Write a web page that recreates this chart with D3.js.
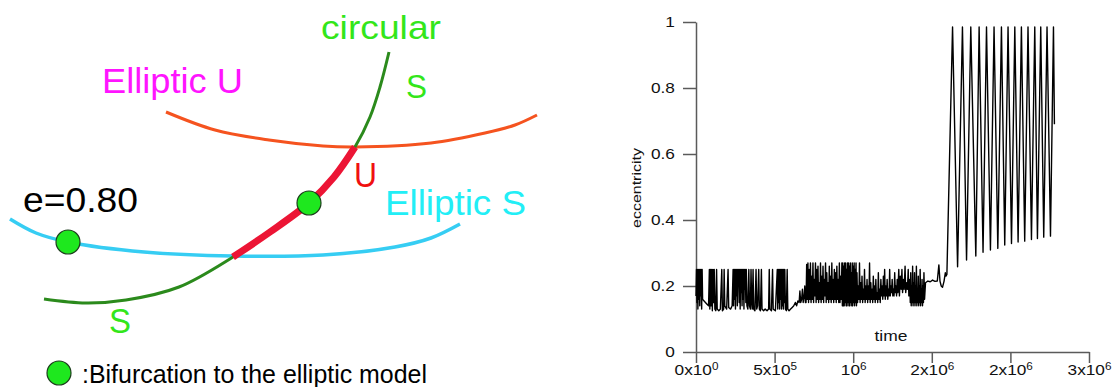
<!DOCTYPE html>
<html>
<head>
<meta charset="utf-8">
<script src="https://cdn.jsdelivr.net/npm/d3@7"></script>
<style>
  body { margin: 0; background: #fff; }
  svg { display: block; font-family: "Liberation Sans", Arial, sans-serif; }
</style>
</head>
<body>
<svg id="chart" width="1115" height="387"></svg>
<script>
// ---- left: schematic of the branches (diagram units, x 0..112, y 0..77.4 downwards)
const ellipticU = [[33.2,22.4],[43,26],[53.8,28],[64.6,29.2],[71,29.4],[86.2,28.6],[97,26.6],[103,25],[107.4,23]];
const ellipticS = [[2,43.8],[7.2,46.6],[13.6,48.4],[28.8,50.4],[46.6,51.2],[64.6,51],[79,49.4],[86.2,47.6],[92,44.8]];
const circularTop = [[77.8,10.4],[76,17.4],[74,23.4],[71,29.4]];
const circularU = [[71,29.4],[66.8,35.4],[61.8,40.6],[54,46.4],[46.6,51.4]];
const circularLow = [[46.6,51.4],[35.8,57.4],[25.2,60],[17.2,60.6],[8.8,59.8]];
const bifurcations = [[13.6,48.4],[61.8,40.6]];

// ---- right: eccentricity vs time (time in units of 1e3)
const quietPhase = [
  [0,.17],[3,.25],[6,.15],[9,.25],[12,.13],[15,.25],[18,.16],[21,.25],[24,.14],[27,.25],[30,.17],[33,.25],[36,.13],[39,.25],[42,.16],
  [50,.155],[60,.15],[70,.145],[80,.14],
  [85,.25],[88,.13],[92,.25],[96,.14],[100,.25],[104,.125],[108,.25],[112,.15],[116,.25],[120,.13],
  [126,.125],[131,.25],[135,.13],[145,.125],[155,.13],[164,.25],[168,.125],[176,.13],[179,.25],[183,.14],[195,.13],[204,.25],[208,.135],[220,.13],[230,.14],
  [236,.25],[239,.14],[242,.25],[245,.16],[248,.25],[251,.13],[254,.25],[257,.17],[260,.25],[263,.14],[266,.25],[269,.2],[272,.25],[275,.15],[278,.25],[281,.13],
  [284,.25],[287,.18],[290,.25],[293,.14],[296,.25],[299,.16],[302,.25],[305,.13],[308,.25],[311,.19],[314,.25],[317,.15],[320,.25],[324,.14],
  [330,.13],[336,.25],[340,.14],[346,.13],[350,.25],[354,.15],[358,.13],[363,.25],[367,.13],[375,.125],[382,.25],[386,.13],[392,.14],[399,.25],[403,.13],[410,.125],[416,.25],[420,.13],
  [430,.125],[440,.13],[452,.125],[462,.13],[466,.25],[470,.13],[480,.125],[487,.25],[491,.13],[505,.125],
  [517,.25],[520,.13],[523,.25],[526,.15],[529,.25],[532,.13],[535,.25],[538,.16],[541,.25],[544,.13],[547,.25],[550,.14],[553,.25],[556,.13],[559,.25],[562,.15],[565,.25],[569,.13],
  [575,.125],[580,.25],[584,.13],[592,.125],[602,.13],[612,.135],[622,.14],[632,.15],[640,.14],[648,.155],[656,.15],[661,.185],[666,.15],[672,.16],[677,.19],[682,.15],[688,.17],[692,.2],[696,.15]
];
const noisyPhase = [
  [700,.15],[704,.265],[708,.16],[712,.27],[716,.15],[720,.25],[724,.16],[728,.27],[732,.15],[736,.23],[740,.16],[744,.27],[748,.15],[752,.22],[756,.17],[760,.27],
  [764,.15],[768,.25],[772,.16],[776,.26],[780,.15],[784,.21],[788,.16],[792,.27],[796,.15],[800,.23],[804,.16],[808,.26],[812,.15],[816,.22],[820,.17],[824,.27],
  [828,.15],[832,.24],[836,.16],[840,.21],[844,.15],[848,.26],[852,.16],[856,.23],[860,.15],[864,.27],[868,.16],[872,.22],[876,.15],[880,.25],
  [884,.16],[888,.24],[892,.15],[896,.26],[900,.16],[904,.22],[908,.15],[912,.27],[916,.15],[920,.23],[924,.16],[928,.27],[931,.14],[934,.27],[937,.14],[940,.26],
  [943,.14],[946,.27],[949,.15],[952,.27],[955,.14],[958,.25],[961,.14],[964,.27],[967,.15],[970,.27],[973,.14],[976,.26],[979,.14],[982,.27],[985,.15],[988,.24],
  [991,.14],[994,.27],[997,.14],[1000,.26],[1003,.15],[1006,.27],[1009,.14],[1012,.25],[1015,.15],[1018,.27],[1021,.14],[1024,.24],
  [1028,.15],[1032,.2],[1036,.16],[1040,.27],[1044,.15],[1048,.21],[1052,.16],[1056,.23],[1060,.15],[1064,.19],[1068,.16],[1072,.25],[1076,.15],[1080,.2],[1084,.16],
  [1088,.22],[1092,.15],[1096,.2],[1100,.16],[1104,.27],[1108,.15],[1112,.21],[1116,.16],[1120,.19],[1124,.15],[1128,.23],[1132,.16],[1136,.2],[1140,.15],[1144,.22],
  [1148,.16],[1152,.18],[1156,.15],[1160,.24],[1164,.16],[1168,.19],[1172,.15],[1176,.22],[1180,.17],[1184,.2],[1188,.16],[1192,.23],[1196,.17],[1200,.25],[1204,.16],
  [1208,.2],[1212,.17],[1216,.22],[1220,.16],[1224,.19],[1228,.17],[1232,.25],[1236,.17],[1240,.2],[1244,.18],[1248,.22],[1252,.17],[1256,.19],[1260,.17],[1264,.24],
  [1268,.18],[1272,.2],[1276,.17],[1280,.22],
  [1284,.18],[1290,.25],[1294,.17],[1300,.23],[1305,.19],[1310,.25],[1314,.18],[1320,.22],[1324,.19],[1330,.26],[1334,.18],[1340,.21],[1345,.19],[1350,.25],[1354,.17],
  [1360,.22],[1363,.15],[1366,.24],[1369,.14],[1372,.2],[1375,.15],[1378,.26],[1381,.14],[1384,.21],[1387,.15],[1390,.24],[1393,.14],[1396,.2],[1399,.15],[1402,.26],
  [1405,.14],[1408,.19],[1411,.15],[1414,.23],[1417,.14],[1420,.2],[1423,.15],[1426,.25],[1429,.14],[1432,.19],[1435,.15],[1438,.22],[1441,.14],[1444,.2],[1447,.15],
  [1450,.24],[1454,.16]
];
const flatPhase = [
  [1460,.21],[1475,.215],[1490,.213],[1505,.218],[1520,.214],[1535,.215],[1545,.264],[1552,.215],[1560,.2],[1568,.196],[1578,.215],[1586,.24],[1590,.23],[1596,.235]
];
const chaoticPhase = [
  [1632,.985],[1664,.258],[1695,.985],[1721,.279],[1748,.985],[1780,.291],[1801,.985],[1826,.302],[1848,.985],[1873,.309],[1896,.985],[1920,.314],
  [1943,.985],[1964,.324],[1985,.985],[2007,.329],[2028,.985],[2049,.333],[2070,.985],[2091,.336],[2112,.985],[2134,.341],[2155,.985],[2172,.344],
  [2193,.985],[2212,.348],[2233,.985],[2255,.351],[2274,.985],[2280,.69]
];

const xMajor = [0, 5e5, 1e6, 1.5e6, 2e6, 2.5e6];
const xMinor = [2.5e5, 7.5e5, 1.25e6, 1.75e6, 2.25e6];
const xLabelBase = ["0x10", "5x10", "10", "2x10", "2x10", "3x10"];
const xLabelExp = ["0", "5", "6", "6", "6", "6"];
const yMajor = [0, .2, .4, .6, .8, 1];
const yMinor = [.1, .3, .5, .7, .9];
const yLabels = ["0", "0.2", "0.4", "0.6", "0.8", "1"];

const svg = d3.select("#chart");

// ===== schematic panel =====
const sx = d3.scaleLinear().domain([0, 112]).range([0, 560]);
const sy = d3.scaleLinear().domain([0, 77.4]).range([0, 387]);
const branch = d3.line().x(d => sx(d[0])).y(d => sy(d[1])).curve(d3.curveCatmullRom.alpha(0.5));

svg.append("path").datum(ellipticU).attr("d", branch)
  .attr("fill", "none").attr("stroke", "#f5531f").attr("stroke-width", 3);
svg.append("path").datum(ellipticS).attr("d", branch)
  .attr("fill", "none").attr("stroke", "#36cdf3").attr("stroke-width", 3.5);
svg.append("path").datum(circularTop.concat(circularU.slice(1), circularLow.slice(1))).attr("d", branch)
  .attr("fill", "none").attr("stroke", "#2b8a1c").attr("stroke-width", 3);
svg.append("path").datum(circularU).attr("d", branch)
  .attr("fill", "none").attr("stroke", "#ec1535").attr("stroke-width", 7);

svg.selectAll(".bif").data(bifurcations).enter().append("circle")
  .attr("class", "bif")
  .attr("cx", d => sx(d[0])).attr("cy", d => sy(d[1])).attr("r", 12)
  .attr("fill", "#1ee81e").attr("stroke", "#1d3d1d").attr("stroke-width", 1.2);

function label(str, x, y, size, color, len) {
  svg.append("text").attr("x", x).attr("y", y)
    .attr("font-size", size).attr("fill", color)
    .attr("textLength", len).attr("lengthAdjust", "spacingAndGlyphs")
    .text(str);
}
label("circular", 321, 39, 33, "#33e61a", 120);
label("S", 406, 98, 33, "#33e61a", 21);
label("Elliptic U", 102, 93, 35, "#ff14ff", 141);
label("U", 354, 187, 35, "#f01010", 23);
label("Elliptic S", 385, 215, 35, "#22eef6", 141);
label("e=0.80", 23, 212, 35, "#000", 115);
label("S", 109, 333, 35, "#33e61a", 22);

// legend
svg.append("circle").attr("cx", sx(11.8)).attr("cy", sy(74.6)).attr("r", 12)
  .attr("fill", "#1ee81e").attr("stroke", "#1d3d1d").attr("stroke-width", 1.2);
label(":Bifurcation to the elliptic model", 82, 383, 25, "#000", 345);

// ===== eccentricity panel =====
const x = d3.scaleLinear().domain([0, 2.5e6]).range([696, 1089]);
const y = d3.scaleLinear().domain([0, 1]).range([352, 22]);

const axisColor = "#5a5a5a";

const gx = svg.append("g").attr("transform", "translate(0,352)");
gx.call(d3.axisBottom(x).tickValues(xMinor).tickSize(5).tickSizeOuter(0).tickFormat(""));
gx.call(d3.axisBottom(x).tickValues(xMajor).tickSize(11).tickSizeOuter(0).tickPadding(1).tickFormat(""));
gx.selectAll(".tick text").each(function (d) {
  const i = xMajor.indexOf(d);
  if (i < 0) return;
  const t = d3.select(this);
  t.append("tspan").text(xLabelBase[i]);
  t.append("tspan").attr("dy", "-0.45em").attr("font-size", "0.68em").text(xLabelExp[i]);
});

const gy = svg.append("g").attr("transform", "translate(696,0)");
gy.call(d3.axisLeft(y).tickValues(yMinor).tickSize(6).tickSizeOuter(0).tickFormat(""));
gy.call(d3.axisLeft(y).tickValues(yMajor).tickSize(13).tickSizeOuter(0).tickPadding(5.3).tickFormat((d, i) => yLabels[i]));

[gx, gy].forEach(g => {
  g.attr("font-family", null).attr("font-size", 15);
  g.selectAll("path.domain, .tick line").attr("stroke", axisColor).attr("stroke-width", 1.5);
  g.selectAll(".tick text").attr("fill", "#111").attr("transform", "scale(1.15,1)");
});

const eccLine = d3.line().x(d => x(d[0] * 1e3)).y(d => y(d[1]));
svg.append("path")
  .datum(quietPhase.concat(noisyPhase, flatPhase, chaoticPhase))
  .attr("d", eccLine)
  .attr("fill", "none").attr("stroke", "#000").attr("stroke-width", 1.4)
  .attr("stroke-linejoin", "round");

svg.append("text")
  .attr("transform", "translate(640.5,188) rotate(-90)")
  .attr("text-anchor", "middle").attr("font-size", 13).attr("fill", "#111")
  .attr("textLength", 80).attr("lengthAdjust", "spacingAndGlyphs")
  .text("eccentricity");

svg.append("text")
  .attr("x", 891).attr("y", 341).attr("text-anchor", "middle")
  .attr("font-size", 15).attr("fill", "#111")
  .attr("textLength", 33).attr("lengthAdjust", "spacingAndGlyphs")
  .text("time");
</script>
</body>
</html>
